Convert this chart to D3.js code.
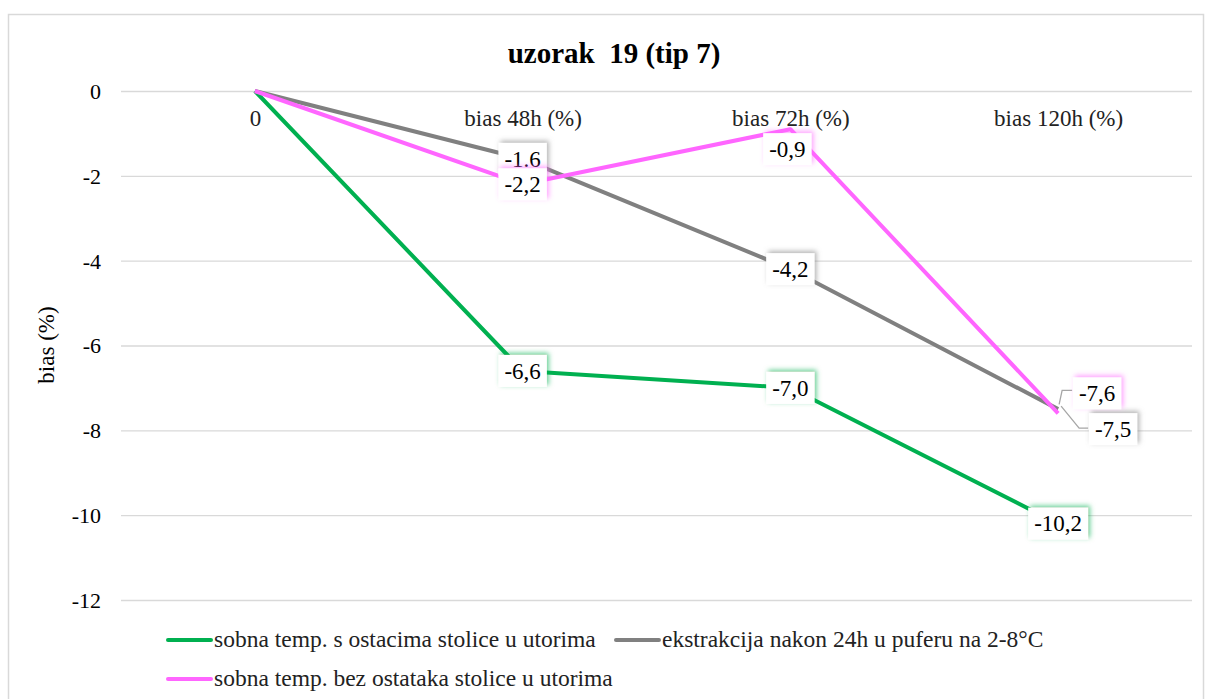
<!DOCTYPE html>
<html><head><meta charset="utf-8">
<script src="https://cdn.jsdelivr.net/npm/d3@7"></script>
<style>body{margin:0;background:#fff;}</style>
</head><body><svg id="c" width="1206" height="699"></svg>
<script>
const categories = ["0", "bias 48h (%)", "bias 72h (%)", "bias 120h (%)"];
const seriesNames = ["sobna temp. s ostacima stolice u utorima", "ekstrakcija nakon 24h u puferu na 2-8°C", "sobna temp. bez ostataka stolice u utorima"];
const greenValues = [0, -6.6, -7.0, -10.2];
const grayValues = [0, -1.6, -4.2, -7.5];
const pinkValues = [0, -2.2, -0.9, -7.6];
const greenLabels = [null, "-6,6", "-7,0", "-10,2"];
const grayLabels = [null, "-1.6", "-4,2", "-7,5"];
const pinkLabels = [null, "-2,2", "-0,9", "-7,6"];
const yTicks = [0, -2, -4, -6, -8, -10, -12];
const titleText = "uzorak  19 (tip 7)";
const yTitle = "bias (%)";

const FONT = "'Liberation Serif'";
const colors = ["#00b050", "#808080", "#ff66ff"];
const series = [
  {name: seriesNames[0], values: greenValues, labels: greenLabels, color: colors[0]},
  {name: seriesNames[1], values: grayValues, labels: grayLabels, color: colors[1]},
  {name: seriesNames[2], values: pinkValues, labels: pinkLabels, color: colors[2]}
];

const svg = d3.select("#c").style("font-family", FONT);
svg.append("rect").attr("x", 8.5).attr("y", 14.5).attr("width", 1195).attr("height", 700)
  .attr("fill", "#fff").attr("stroke", "#d9d9d9").attr("stroke-width", 1.5);

const x = d3.scalePoint().domain(categories).range([121, 1192]).padding(0.5);
const y = d3.scaleLinear().domain([-12, 0]).range([600, 91]);

const defs = svg.append("defs");
series.forEach((s, i) => {
  const f = defs.append("filter").attr("id", "glow" + i).attr("x", "-40%").attr("y", "-60%").attr("width", "180%").attr("height", "220%");
  f.append("feDropShadow").attr("dx", 2).attr("dy", -2).attr("stdDeviation", 2.5)
    .attr("flood-color", s.color).attr("flood-opacity", 0.6);
});

// gridlines
svg.append("g").selectAll("line").data(yTicks).join("line")
  .attr("x1", 121).attr("x2", 1192).attr("y1", d => y(d) + 0.5).attr("y2", d => y(d) + 0.5)
  .attr("stroke", "#d9d9d9").attr("stroke-width", 1.3);

// y axis labels
const yAxis = d3.axisLeft(y).tickValues(yTicks).tickSize(0).tickPadding(0).tickFormat(d => String(d));
const ga = svg.append("g").attr("transform", "translate(101,0)").call(yAxis);
ga.select(".domain").remove();
ga.attr("font-family", null).attr("font-size", null);
ga.selectAll("text").style("font-family", FONT).attr("font-size", 22).attr("fill", "#000").attr("dy", "0.34em");

// category labels
const xAxis = d3.axisTop(x).tickSize(0).tickPadding(0);
const gx = svg.append("g").attr("transform", "translate(0,126)").call(xAxis);
gx.select(".domain").remove();
gx.attr("font-family", null).attr("font-size", null);
gx.selectAll("text").style("font-family", FONT).attr("font-size", 23).attr("fill", "#222");

// title
svg.append("text").attr("x", 614).attr("y", 63).attr("text-anchor", "middle").style("font-family", FONT)
  .attr("font-size", 29).attr("font-weight", "bold").style("white-space", "pre").text(titleText);

// y title
svg.append("text").attr("transform", "translate(54,345) rotate(-90)").attr("text-anchor", "middle").style("font-family", FONT)
  .attr("font-size", 23).text(yTitle);

// lines
const line = d3.line().x((d, i) => x(categories[i])).y(d => y(d));
series.forEach(s => {
  svg.append("path").datum(s.values).attr("d", line).attr("fill", "none")
    .attr("stroke", s.color).attr("stroke-width", 4).attr("stroke-linejoin", "round");
});

// label offsets (position adjustments) and leader lines
const offsets = {"2-3": [39, -20], "1-3": [55, 20], "2-2": [-3, 20]};
const leaders = {
  "2-3": [[1, -9], [4, -23], [14, -23]],
  "1-3": [[3, -3], [21, 19], [30, 19]]
};
const order = [1, 2, 0];
const labelG = svg.append("g");
series.forEach((s, si) => {
  s.values.forEach((v, i) => {
    const key = si + "-" + i;
    if (leaders[key]) {
      const px = x(categories[i]), py = y(v);
      labelG.append("polyline").attr("points", leaders[key].map(p => [px + p[0], py + p[1]].join(",")).join(" "))
        .attr("fill", "none").attr("stroke", "#a6a6a6").attr("stroke-width", 1.3);
    }
  });
});
order.forEach(si => {
  const s = series[si];
  s.values.forEach((v, i) => {
    const lab = s.labels[i];
    if (!lab) return;
    const key = si + "-" + i;
    const off = offsets[key] || [0, 0];
    const cx = x(categories[i]) + off[0], cy = y(v) + off[1];
    const g = labelG.append("g");
    const t = g.append("text").attr("x", cx).attr("y", cy).attr("dy", "0.34em").attr("text-anchor", "middle")
      .style("font-family", FONT).attr("font-size", 23).attr("fill", "#000").text(lab);
    const w = t.node().getComputedTextLength() + 12;
    g.insert("rect", "text").attr("x", cx - w / 2).attr("y", cy - 16).attr("width", w).attr("height", 32)
      .attr("fill", "#fff").attr("filter", "url(#glow" + si + ")");
  });
});

// legend
const legendPos = [[168, 640], [616, 640], [168, 679]];
series.forEach((s, i) => {
  const [lx, ly] = legendPos[i];
  svg.append("line").attr("x1", lx).attr("x2", lx + 43).attr("y1", ly).attr("y2", ly)
    .attr("stroke", s.color).attr("stroke-width", 4).attr("stroke-linecap", "round");
  svg.append("text").attr("x", lx + 46).attr("y", ly).attr("dy", "0.3em").style("font-family", FONT)
    .attr("font-size", 23.5).attr("fill", "#222").text(s.name);
});
</script></body></html>
